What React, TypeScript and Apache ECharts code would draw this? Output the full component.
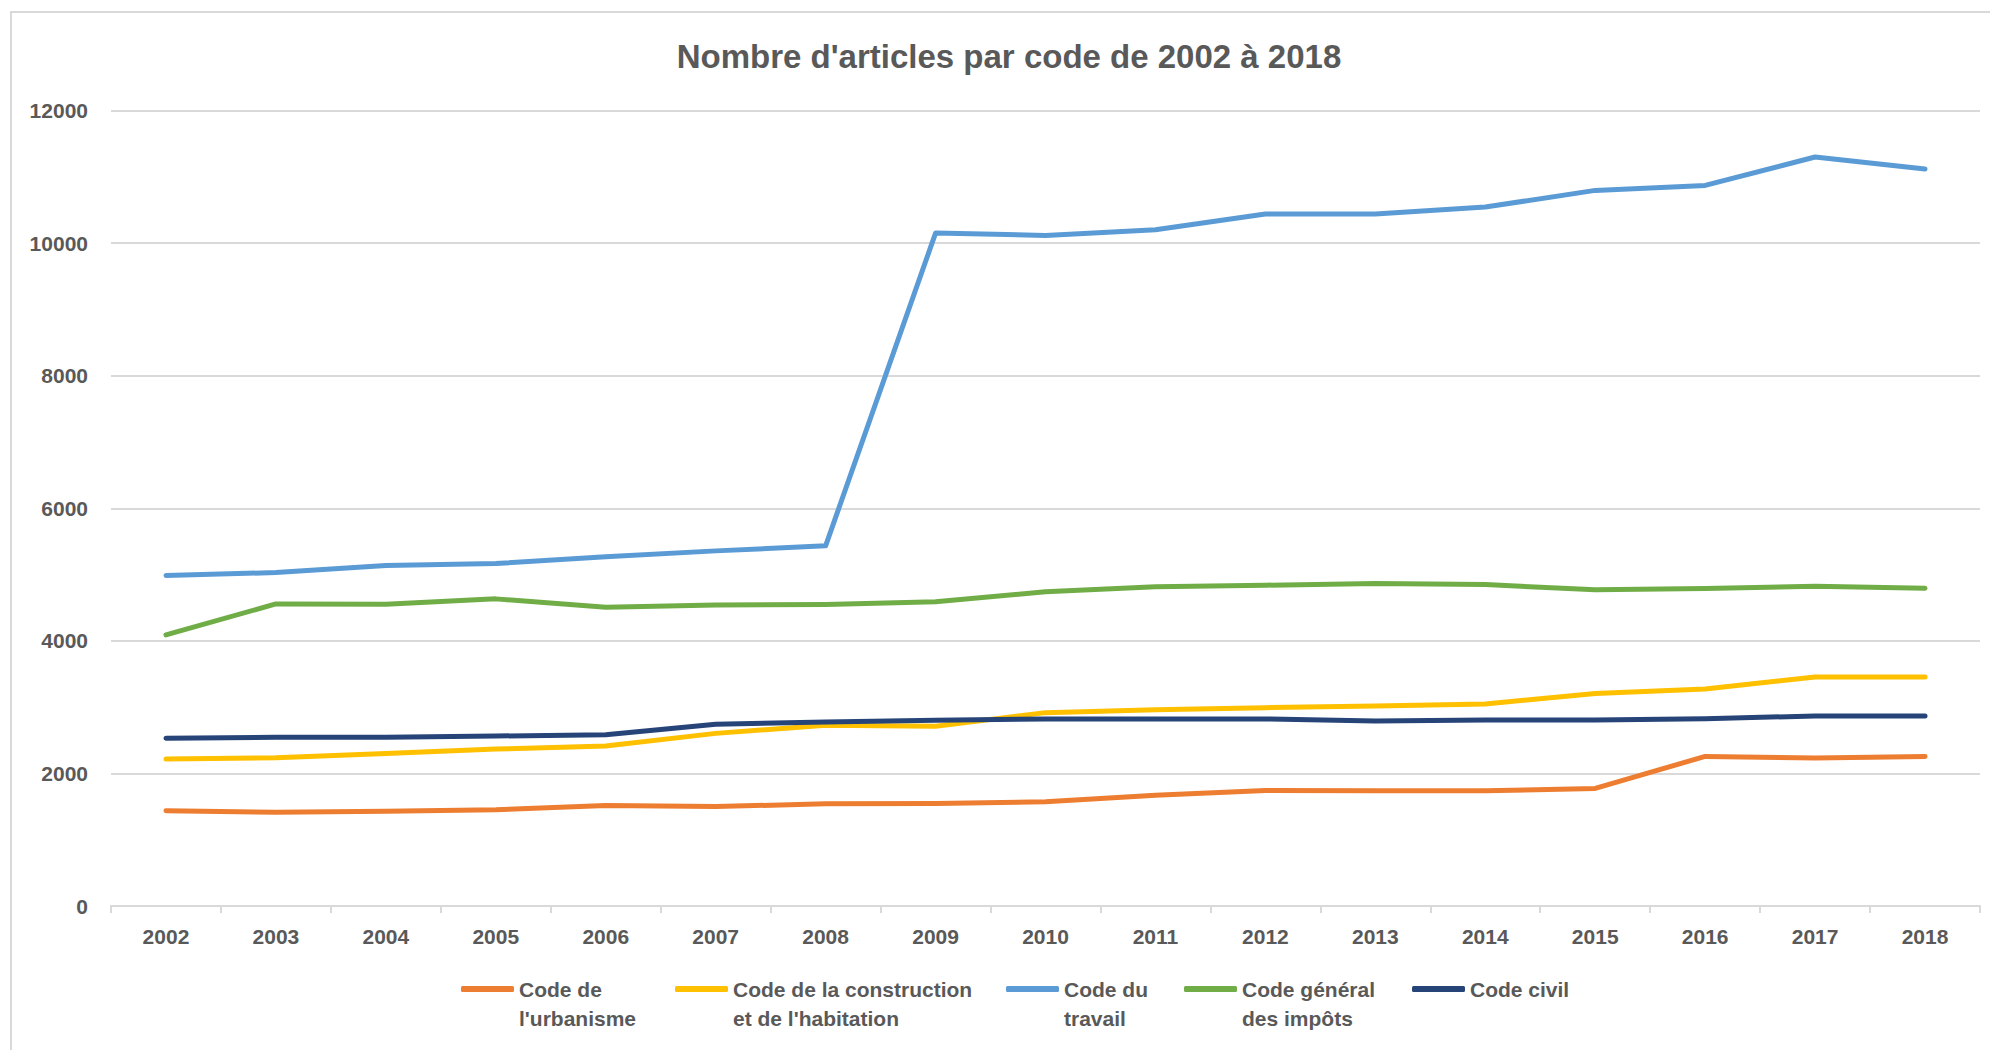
import React, { useEffect, useRef } from "react";
import * as echarts from "echarts";

const years = ["2002", "2003", "2004", "2005", "2006", "2007", "2008", "2009", "2010", "2011", "2012", "2013", "2014", "2015", "2016", "2017", "2018"];

const codeUrbanisme = [1436, 1415, 1430, 1451, 1516, 1501, 1541, 1546, 1572, 1672, 1743, 1738, 1738, 1773, 2257, 2232, 2257];
const codeConstruction = [2216, 2237, 2302, 2368, 2413, 2604, 2725, 2710, 2917, 2962, 2992, 3017, 3048, 3204, 3274, 3456, 3456];
const codeTravail = [4985, 5030, 5136, 5166, 5267, 5357, 5433, 10151, 10116, 10201, 10438, 10438, 10543, 10795, 10870, 11298, 11117];
const codeImpots = [4090, 4557, 4553, 4633, 4507, 4542, 4547, 4588, 4739, 4814, 4839, 4864, 4849, 4769, 4789, 4824, 4794];
const codeCivil = [2529, 2544, 2544, 2564, 2584, 2740, 2776, 2801, 2821, 2821, 2821, 2791, 2806, 2806, 2826, 2866, 2866];

const seriesNames = [
  "Code de l'urbanisme",
  "Code de la construction et de l'habitation",
  "Code du travail",
  "Code général des impôts",
  "Code civil",
];
const legendLines = [
  ["Code de", "l'urbanisme"],
  ["Code de la construction", "et de l'habitation"],
  ["Code du", "travail"],
  ["Code général", "des impôts"],
  ["Code civil"],
];
const seriesColors = ["#ED7D31", "#FFC000", "#5B9BD5", "#70AD47", "#264478"];
const seriesData = [codeUrbanisme, codeConstruction, codeTravail, codeImpots, codeCivil];

const titleText = "Nombre d'articles par code de 2002 à 2018";

const FONT = "'Liberation Sans', Arial, sans-serif";
const TEXT_COLOR = "#595959";
const GRID_COLOR = "#d9d9d9";

const legendLeft = [461, 675, 1006, 1184, 1412];

export default function App() {
  const ref = useRef<HTMLDivElement>(null);

  useEffect(() => {
    if (!ref.current) return;
    const chart = echarts.init(ref.current, null, { renderer: "svg" });

    const legends = seriesNames.map((name, i) => {
      const lines = legendLines[i];
      const twoLines = lines.length > 1;
      // a leading empty line keeps the first text line level with the icon
      const label = twoLines ? "\n" + lines.join("\n") : lines[0];
      return {
        data: [name],
        left: legendLeft[i],
        top: twoLines ? 945.5 : 974.5,
        padding: 0,
        itemWidth: 53,
        itemHeight: 6,
        itemGap: 0,
        icon: "roundRect",
        formatter: () => label,
        textStyle: {
          fontFamily: FONT,
          fontSize: 21,
          fontWeight: "bold",
          color: TEXT_COLOR,
          lineHeight: 29,
        },
      };
    });

    const option: any = {
      animation: false,
      backgroundColor: "#ffffff",
      title: {
        text: titleText,
        left: 1009,
        top: 40,
        textAlign: "center",
        padding: 0,
        textStyle: {
          fontFamily: FONT,
          fontSize: 33,
          fontWeight: "bold",
          color: TEXT_COLOR,
        },
      },
      legend: legends,
      grid: {
        left: 111,
        right: 10,
        top: 110.5,
        bottom: 144,
        containLabel: false,
      },
      xAxis: {
        type: "category",
        data: years,
        boundaryGap: true,
        axisLine: { show: true, lineStyle: { color: GRID_COLOR, width: 2 } },
        axisTick: { show: true, length: 7, lineStyle: { color: GRID_COLOR, width: 2 } },
        axisLabel: {
          margin: 20,
          fontFamily: FONT,
          fontSize: 21,
          fontWeight: "bold",
          color: TEXT_COLOR,
          interval: 0,
        },
        splitLine: { show: false },
      },
      yAxis: {
        type: "value",
        min: 0,
        max: 12000,
        interval: 2000,
        axisLine: { show: false },
        axisTick: { show: false },
        axisLabel: {
          margin: 23,
          fontFamily: FONT,
          fontSize: 21,
          fontWeight: "bold",
          color: TEXT_COLOR,
          formatter: (v: number) => String(v),
        },
        splitLine: { show: true, lineStyle: { color: GRID_COLOR, width: 2 } },
      },
      graphic: [
        {
          type: "polyline",
          silent: true,
          shape: { points: [[11, 1050], [11, 12], [1990, 12]] },
          style: { stroke: GRID_COLOR, lineWidth: 2, fill: "none" },
        },
      ],
      series: seriesNames.map((name, i) => ({
        name,
        type: "line",
        data: seriesData[i],
        symbol: "none",
        showSymbol: false,
        color: seriesColors[i],
        lineStyle: { color: seriesColors[i], width: 5, cap: "round", join: "round" },
        itemStyle: { color: seriesColors[i] },
      })),
    };

    chart.setOption(option);
    return () => {
      chart.dispose();
    };
  }, []);

  return (
    <div
      ref={ref}
      style={{ position: "absolute", left: 0, top: 0, width: 1990, height: 1050 }}
    />
  );
}
